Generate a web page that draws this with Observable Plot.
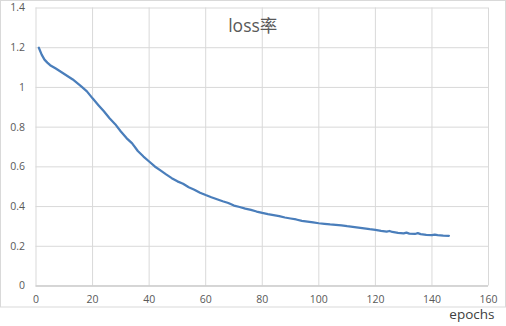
<!DOCTYPE html>
<html>
<head>
<meta charset="utf-8">
<script src="https://cdn.jsdelivr.net/npm/d3@7"></script>
<script src="https://cdn.jsdelivr.net/npm/@observablehq/plot@0.6"></script>
<style>
  html, body { margin: 0; padding: 0; background: #fff; }
  #chart { width: 506px; height: 326px; }
</style>
</head>
<body>
<div id="chart"></div>
<script>
const epochs = [1,2,3,4,5,7,10,13,16,18,20,22,24,26,28,30,32,34,36,38,40,42,44,46,48,50,52,54,56,58,60,62,64,66,68,70,72,74,76,78,80,82,84,86,88,90,92,94,96,98,100,102,104,106,108,110,112,114,116,118,120,122,124,125,126,128,130,131,132,134,135,136,138,140,141,142,144,146];
const loss = [1.200,1.165,1.140,1.125,1.112,1.095,1.068,1.040,1.005,0.980,0.945,0.912,0.880,0.845,0.815,0.778,0.745,0.718,0.680,0.652,0.627,0.602,0.582,0.562,0.543,0.527,0.515,0.497,0.485,0.470,0.458,0.447,0.437,0.427,0.418,0.405,0.398,0.390,0.383,0.375,0.368,0.362,0.357,0.352,0.345,0.340,0.335,0.328,0.324,0.320,0.316,0.313,0.310,0.308,0.305,0.301,0.298,0.294,0.290,0.286,0.283,0.278,0.274,0.277,0.272,0.268,0.265,0.269,0.264,0.262,0.266,0.261,0.258,0.256,0.259,0.256,0.254,0.253];
const xTicks = [0,20,40,60,80,100,120,140,160];
const yTicks = [0,0.2,0.4,0.6,0.8,1,1.2,1.4];
const titleText = "loss率";
const xLabel = "epochs";

const data = epochs.map((e, i) => ({epoch: e, loss: loss[i]}));

const plot = Plot.plot({
  width: 506,
  height: 326,
  marginLeft: 35.5,
  marginRight: 18,
  marginTop: 7.5,
  marginBottom: 40.5,
  style: {fontFamily: "'Open Sans', 'Noto Sans CJK SC', sans-serif", fontSize: "10.5px", color: "#595959", background: "#fff"},
  x: {domain: [0, 160], ticks: xTicks},
  y: {domain: [0, 1.4], ticks: yTicks},
  marks: [
    Plot.gridX(xTicks, {stroke: "#d9d9d9", strokeOpacity: 1}),
    Plot.gridY(yTicks, {stroke: "#d9d9d9", strokeOpacity: 1}),
    Plot.ruleY([0], {stroke: "#bfbfbf"}),
    Plot.axisX(xTicks, {tickSize: 0, tickPadding: 10, label: null, fill: "#595959", tickFormat: d => String(d)}),
    Plot.axisY(yTicks, {tickSize: 0, tickPadding: 11, label: null, fill: "#595959", tickFormat: d => String(+d.toFixed(1))}),
    Plot.line(data, {x: "epoch", y: "loss", stroke: "#4a7ebb", strokeWidth: 2.25, curve: "linear"}),
    Plot.text([titleText], {frameAnchor: "top", text: d => d, dx: -9.5, dy: 18, fontSize: 17.5, fill: "#595959", lineAnchor: "middle"}),
    Plot.text([xLabel], {frameAnchor: "bottom-right", text: d => d, dx: 6, dy: 29, fontSize: 13.5, fill: "#404040", textAnchor: "end", lineAnchor: "middle"})
  ]
});

d3.select(plot).insert("rect", ":first-child")
  .attr("x", 0.5).attr("y", 0.5).attr("width", 505).attr("height", 306.5)
  .attr("fill", "none").attr("stroke", "#d9d9d9");

document.getElementById("chart").appendChild(plot);
</script>
</body>
</html>
